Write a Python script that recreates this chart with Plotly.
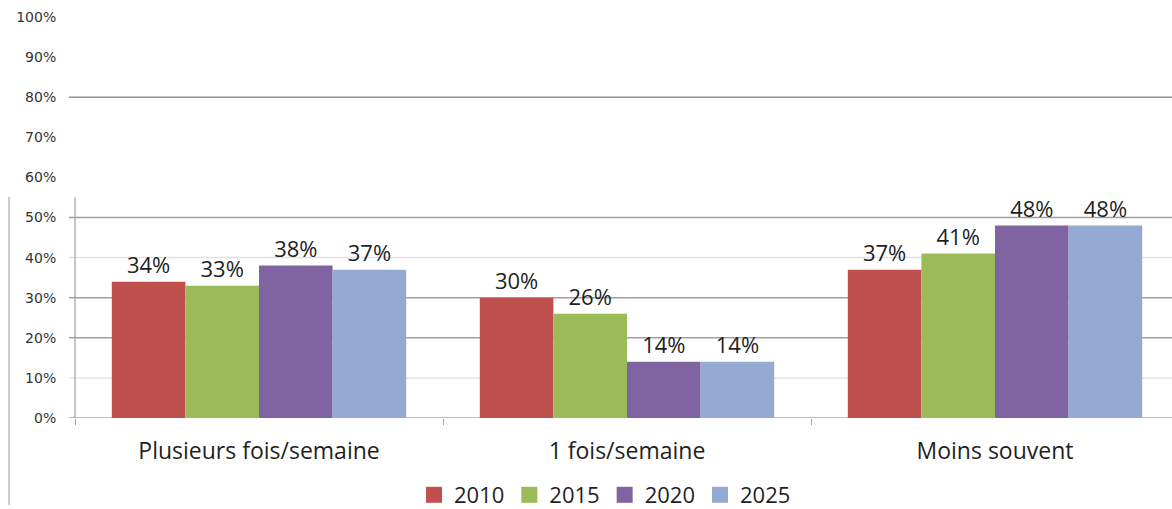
import plotly.graph_objects as go

# Share of respondents by frequency, per survey year
categories = ["Plusieurs fois/semaine", "1 fois/semaine", "Moins souvent"]
years = ["2010", "2015", "2020", "2025"]
values_2010 = [34, 30, 37]
values_2015 = [33, 26, 41]
values_2020 = [38, 14, 48]
values_2025 = [37, 14, 48]
y_ticks = [0, 10, 20, 30, 40, 50, 60, 70, 80, 90, 100]

series = [values_2010, values_2015, values_2020, values_2025]
colors = ["#C0504D", "#9BBB59", "#8064A2", "#94AAD3"]

W, H = 1172, 509
ML, MR, MT, MB = 75, 0, 17, 91
plot_w = W - ML - MR
plot_h = H - MT - MB

fig = go.Figure()
for name, vals, col in zip(years, series, colors):
    fig.add_trace(go.Bar(
        x=categories, y=vals, name=name, showlegend=False,
        marker=dict(color=col, line=dict(width=0)),
        text=[f"{v}%" for v in vals], texttemplate="%{text}",
        textposition="outside",
        textfont=dict(family="Open Sans", size=22, color="#1f1f1f"),
        cliponaxis=False,
    ))
# legend keys drawn as larger square swatches
for name, col in zip(years, colors):
    fig.add_trace(go.Scatter(
        x=[None], y=[None], name=name, mode="markers",
        marker=dict(symbol="square", size=16, color=col),
    ))

# horizontal rules: (level, colour)
rules = [(80, "#8f8f8f"), (50, "#a0a0a0"), (40, "#e2e2e2"), (30, "#a0a0a0"),
         (20, "#a0a0a0"), (10, "#e2e2e2"), (0, "#a8a8a8")]
shapes = []
for lvl, col in rules:
    shapes.append(dict(type="line", xref="paper", yref="y",
                       x0=-6 / plot_w, x1=1, y0=lvl, y1=lvl,
                       line=dict(color=col, width=1.5), layer="below"))
# value axis line
shapes.append(dict(type="line", xref="paper", yref="y", x0=0, x1=0,
                   y0=-1, y1=55, line=dict(color="#a0a0a0", width=1.2)))
# outer frame edge on the left
shapes.append(dict(type="line", xref="paper", yref="paper",
                   x0=-66 / plot_w, x1=-66 / plot_w,
                   y0=(418 - 505) / plot_h, y1=(418 - 197) / plot_h,
                   line=dict(color="#a8a8a8", width=1.2)))

fig.update_layout(
    width=W, height=H,
    margin=dict(l=ML, r=MR, t=MT, b=MB, autoexpand=False),
    paper_bgcolor="white", plot_bgcolor="white",
    barmode="group", bargap=0.2, bargroupgap=0,
    shapes=shapes,
    showlegend=True,
    legend=dict(orientation="h", x=605 / W, xanchor="center", xref="container",
                y=(H - 495) / H, yanchor="middle", yref="container",
                font=dict(family="Open Sans", size=22, color="#1f1f1f"),
                itemwidth=30, tracegroupgap=0),
    xaxis=dict(range=[-0.5, 2.5 - 7 / 368], showgrid=False, showline=False,
               zeroline=False, ticks="outside", tickson="boundaries",
               ticklen=6, tickcolor="#a0a0a0", automargin=False,
               tickfont=dict(family="Open Sans", size=23, color="#1f1f1f"),
               ticklabelstandoff=17),
    yaxis=dict(range=[0, 100], tickvals=y_ticks,
               ticktext=[f"{v}%" for v in y_ticks], automargin=False,
               showgrid=False, zeroline=False, showline=False,
               ticks="outside", ticklen=15, tickcolor="rgba(0,0,0,0)",
               tickfont=dict(family="DejaVu Sans", size=14, color="#333333")),
)

fig.write_html("out.html")
